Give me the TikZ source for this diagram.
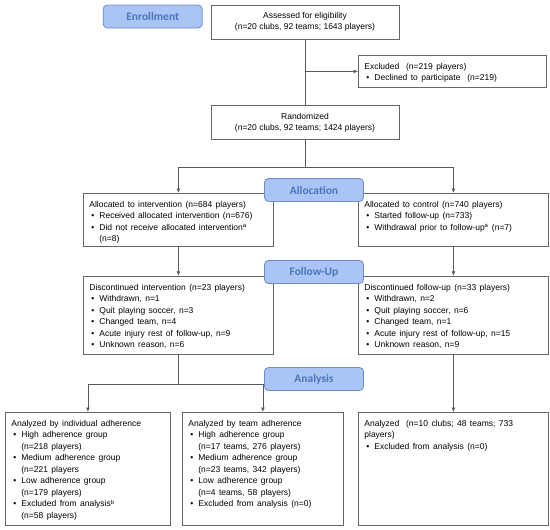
\documentclass[tikz,border=0pt]{standalone}
\usepackage{fontspec}
\setmainfont{Liberation Sans}
\newfontfamily\stagefamily{Carlito}
\usetikzlibrary{positioning, arrows.meta}

\definecolor{stagefill}{HTML}{A9C4F5}
\definecolor{stageline}{HTML}{6F8DC4}
\definecolor{stagetext}{HTML}{4A76BD}
\definecolor{boxline}{HTML}{666666}
\definecolor{arrowline}{HTML}{5A5A5A}

\newcommand{\boxfont}{\fontsize{8.5}{11.5}\selectfont}
\newcommand{\wideskip}{\spaceskip 0.4em\relax}
\newcommand{\stagefont}{\stagefamily\bfseries\fontsize{11.5}{13}\selectfont}
\newcommand{\bitem}{\makebox[10pt][l]{\hspace{2pt}\textbullet}}
\newcommand{\bcont}{\hspace*{10pt}}

\begin{document}
\begin{tikzpicture}[
    x=1pt, y=-1pt,
    box/.style={draw=boxline, line width=0.8pt, fill=white, font=\boxfont},
    midbox/.style={box, minimum width=188pt, minimum height=34pt, align=center},
    txtbox/.style={box, anchor=north west, text width=#1, align=left, inner xsep=6pt, inner ysep=4pt, text height=10pt, execute at begin node=\wideskip},
    stage/.style={draw=stageline, fill=stagefill, text=stagetext, line width=0.8pt, rounded corners=4pt, minimum width=99pt, minimum height=23pt, font=\stagefont},
    link/.style={draw=arrowline, line width=0.8pt},
    arrow/.style={link, -{Latex[length=4.5pt,width=4pt]}}
]
    \useasboundingbox (0,0) rectangle (550,530);

    \node[midbox] (assess) at (305,22) {Assessed for eligibility\\(n=20 clubs, 92 teams; 1643 players)};
    \node[stage, anchor=north east] (enroll) at ([xshift=-8pt]assess.north west) {Enrollment};
    \node[txtbox=176pt, text depth=14pt] (excl) at (358,55) {Excluded \ (n=219 players)\\\bitem Declined to participate \ (n=219)};
    \node[midbox, below=66pt of assess] (rand) {Randomized\\(n=20 clubs, 92 teams; 1424 players)};
    \coordinate[below=27pt of rand] (split1);

    \node[txtbox=178pt, text depth=35pt] (alloci) at (83,193) {Allocated to intervention (n=684 players)\\\bitem Received allocated intervention (n=676)\\\bitem Did not receive allocated intervention\textsuperscript{a}\\\bcont(n=8)};
    \node[txtbox=178pt, text depth=35pt] (allocc) at (358,193) {Allocated to control (n=740 players)\\\bitem Started follow-up (n=733)\\\bitem Withdrawal prior to follow-up\textsuperscript{a} (n=7)};

    \node[txtbox=178pt, text depth=60pt, below=29pt of alloci] (disci) {Discontinued intervention (n=23 players)\\\bitem Withdrawn, n=1\\\bitem Quit playing soccer, n=3\\\bitem Changed team, n=4\\\bitem Acute injury rest of follow-up, n=9\\\bitem Unknown reason, n=6};
    \node[txtbox=178pt, text depth=60pt, below=29pt of allocc] (discc) {Discontinued follow-up (n=33 players)\\\bitem Withdrawn, n=2\\\bitem Quit playing soccer, n=6\\\bitem Changed team, n=1\\\bitem Acute injury rest of follow-up, n=15\\\bitem Unknown reason, n=9};
    \coordinate[below=30pt of disci] (split2);

    \node[txtbox=153pt, text depth=95pt] (anind) at (5,412) {Analyzed by individual adherence\\\bitem High adherence group\\\bcont(n=218 players)\\\bitem Medium adherence group\\\bcont(n=221 players\\\bitem Low adherence group\\\bcont(n=179 players)\\\bitem Excluded from analysis\textsuperscript{b}\\\bcont(n=58 players)};
    \node[txtbox=149pt, text depth=95pt] (anteam) at (182,412) {Analyzed by team adherence\\\bitem High adherence group\\\bcont(n=17 teams, 276 players)\\\bitem Medium adherence group\\\bcont(n=23 teams, 342 players)\\\bitem Low adherence group\\\bcont(n=4 teams, 58 players)\\\bitem Excluded from analysis (n=0)};
    \node[txtbox=178pt, text depth=95pt] (anall) at (358,412) {Analyzed \ (n=10 clubs; 48 teams; 733\\players)\\\bitem Excluded from analysis (n=0)};

    % connectors
    \draw[link] (assess) -- (rand);
    \draw[arrow] (assess.south |- excl.west) -- (excl.west);
    \draw[link] (rand) -- (split1);
    \draw[arrow] (split1) -| (alloci);
    \draw[arrow] (split1) -| (allocc);
    \draw[arrow] (alloci) -- (disci);
    \draw[arrow] (allocc) -- (discc);
    \draw[link] (disci) -- (split2);
    \draw[arrow] (split2) -| (anind);
    \draw[arrow] (split2) -| (anteam);
    \draw[arrow] (discc) -- (anall);

    % stage labels
    \node[stage] (allocation) at (314,190) {Allocation};
    \node[stage] (followup) at (314,272) {Follow-Up};
    \node[stage] (analysis) at (314,379) {Analysis};
\end{tikzpicture}
\end{document}
